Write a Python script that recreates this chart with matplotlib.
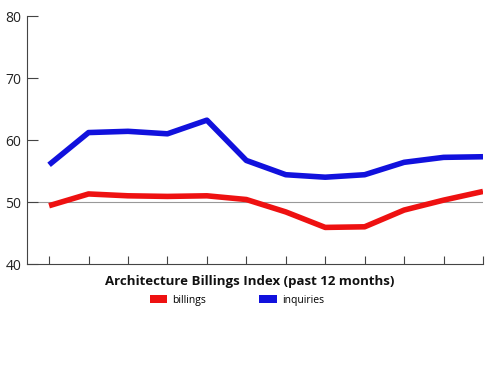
import numpy as np
import matplotlib.pyplot as plt
from matplotlib.patches import Patch

# ======================
# DATA
# ======================
months = list(range(12))
billings = [49.4, 51.3, 51.0, 50.9, 51.0, 50.4, 48.4, 45.9, 46.0, 48.7, 50.3, 51.7]
inquiries = [56.0, 61.2, 61.4, 61.0, 63.2, 56.7, 54.4, 54.0, 54.4, 56.4, 57.2, 57.3]
y_ticks = [40, 50, 60, 70, 80]

red = "#ee1111"
blue = "#1111dd"
axis_col = "#444444"

plt.rcParams["font.family"] = ["Open Sans", "DejaVu Sans"]

fig = plt.figure(figsize=(4.89, 3.66), dpi=100)
ax = fig.add_axes([27 / 489, 1 - 264 / 366, (483 - 27) / 489, (264 - 16) / 366])

ax.axhline(50, color="#999999", linewidth=0.8, zorder=1)
ax.plot(months, billings, color=red, linewidth=4, solid_capstyle="butt", zorder=3)
ax.plot(months, inquiries, color=blue, linewidth=4, solid_capstyle="butt", zorder=3)

ax.set_xlim(-0.56, 11)
ax.set_ylim(40, 80)
ax.set_yticks(y_ticks)
ax.set_xticks(months)
ax.set_xticklabels([])

for side in ["top", "right"]:
    ax.spines[side].set_visible(False)
for side in ["left", "bottom"]:
    ax.spines[side].set_color(axis_col)
    ax.spines[side].set_linewidth(0.8)

ax.tick_params(axis="y", direction="in", length=8, width=0.8, color=axis_col,
               labelsize=10, labelcolor="#222222", pad=4)
ax.tick_params(axis="x", direction="in", length=5.5, width=0.8, color=axis_col)

fig.text(250 / 489, 1 - 281 / 366, "Architecture Billings Index (past 12 months)",
         ha="center", va="center", fontsize=9.5, fontweight="bold", color="#111111")

handles = [Patch(facecolor=red, edgecolor="none"), Patch(facecolor=blue, edgecolor="none")]
fig.legend(handles, ["billings", "inquiries"], loc="center",
           bbox_to_anchor=(237 / 489, 1 - 300 / 366), ncol=2, frameon=False,
           fontsize=7.5, handlelength=1.7, handleheight=0.9, handletextpad=0.5,
           columnspacing=5.1)

fig.savefig("out.png", dpi=100)
